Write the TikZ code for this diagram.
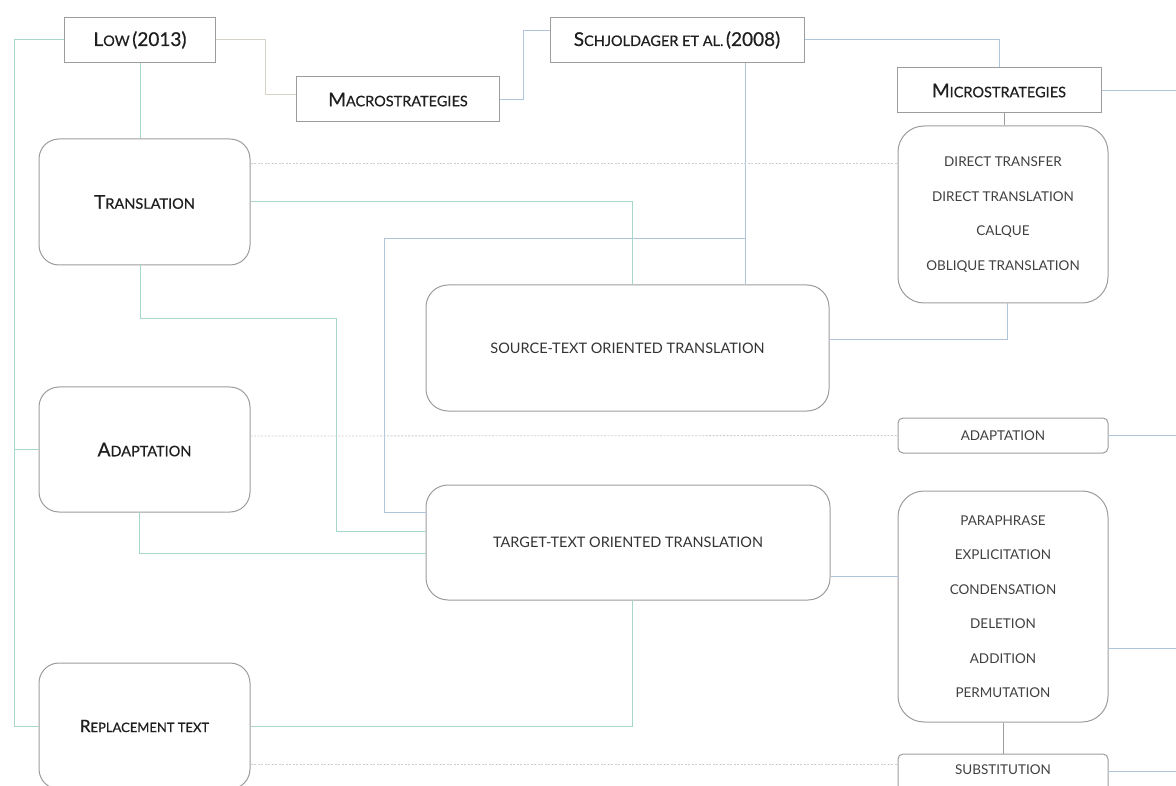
\documentclass[tikz,border=0pt]{standalone}
\usepackage{fontspec}
\setmainfont{Lato}
\newfontfamily\hdfont{Lato}[FakeBold=0.6]
\definecolor{boxgray}{HTML}{9C9C9C}
\definecolor{tealline}{HTML}{A6D6CC}
\definecolor{blueline}{HTML}{B0C4DC}
\definecolor{sandline}{HTML}{D6D3C4}
\definecolor{dotgray}{HTML}{CDCDCD}
\newcommand{\largecap}[1]{{\fontsize{19}{22}\selectfont #1}}
\newcommand{\smallcap}[1]{{\fontsize{14.5}{22}\selectfont #1}}

\begin{document}
\begin{tikzpicture}[x=1pt, y=-1pt,
    hd/.style={draw=boxgray, line width=1pt, inner sep=0pt, text=black!88, font=\hdfont},
    rbox/.style={hd, rounded corners=20pt, minimum width=211pt},
    lbox/.style={hd, rounded corners=26pt, minimum width=210pt, text=black!75,
        align=center, font=\fontsize{13.5}{34.5}\selectfont},
    sbox/.style={hd, rounded corners=5pt, minimum width=210pt, text=black!75,
        font=\fontsize{13.5}{15}\selectfont},
    tl/.style={draw=tealline, line width=1pt},
    bl/.style={draw=blueline, line width=1pt},
    gl/.style={draw=boxgray, line width=0.8pt},
    dl/.style={draw=dotgray, line width=0.8pt, dash pattern=on 2pt off 1.5pt}]
    \clip (0,0) rectangle (1176,786);

    %nodes
    \node[hd, minimum width=151pt, minimum height=45pt] (low) at (140,40) {\largecap{L}\smallcap{OW} \largecap{(2013)}};
    \node[hd, minimum width=203pt, minimum height=45pt] (macro) at (398,99.5) {\largecap{M}\smallcap{ACROSTRATEGIES}};
    \node[hd, minimum width=254pt, minimum height=45pt] (schj) at (677,40) {\largecap{S}\smallcap{CHJOLDAGER ET AL.} \largecap{(2008)}};
    \node[hd, minimum width=204pt, minimum height=45pt] (micro) at (999,90.5) {\largecap{M}\smallcap{ICROSTRATEGIES}};

    \node[rbox, minimum height=126pt] (trans) at (144.5,202) {\largecap{T}\smallcap{RANSLATION}};
    \node[rbox, minimum height=125pt] (adapt) at (144.5,449.5) {\largecap{A}\smallcap{DAPTATION}};
    \node[rbox, minimum height=126pt] (repl) at (144.5,726)
        {{\fontsize{17}{20}\selectfont R}{\fontsize{13}{20}\selectfont EPLACEMENT TEXT}};

    \node[rbox, rounded corners=22pt, minimum width=403pt, minimum height=126pt, text=black!80,
        font=\fontsize{14.5}{17}\selectfont] (source) at (627.5,348) {SOURCE-TEXT ORIENTED TRANSLATION};
    \node[rbox, rounded corners=22pt, minimum width=404pt, minimum height=115pt, text=black!80,
        font=\fontsize{14.5}{17}\selectfont] (target) at (628,542.5) {TARGET-TEXT ORIENTED TRANSLATION};

    \node[lbox, minimum height=177pt] (listone) at (1003,214.5)
        {DIRECT TRANSFER\\DIRECT TRANSLATION\\CALQUE\\OBLIQUE TRANSLATION};
    \node[sbox, minimum height=35pt] (adaptr) at (1003,435.5) {ADAPTATION};
    \node[lbox, minimum height=231pt] (listtwo) at (1003,606.5)
        {PARAPHRASE\\EXPLICITATION\\CONDENSATION\\DELETION\\ADDITION\\PERMUTATION};
    \node[sbox, minimum height=46pt, text depth=0pt] (subst) at (1003,777) {\raisebox{14pt}{SUBSTITUTION}};

    %edges
    \draw[tl] (low.west) -- ++(-50,0) |- (repl.west);
    \draw[tl] (adapt.west) -- ++(-25,0);
    \draw[tl] (low.south) -- (low.south |- trans.north);
    \draw[draw=sandline, line width=1pt] (low.east) -- ++(49,0) |- ([yshift=5pt]macro.west);
    \draw[bl] (macro.east) -- ++(23,0) |- ([yshift=9pt]schj.west);
    \draw[bl] (schj.east) -| (micro.north);
    \draw[bl] (micro.east) -- ++(75,0);
    \draw[gl] ([xshift=5pt]micro.south) -- ([xshift=5pt]micro.south |- listone.north);

    \draw[bl] ([xshift=68pt]schj.south) -- ([xshift=68pt]schj.south |- source.north);
    \draw[bl] ([xshift=68pt, yshift=-175.5pt]schj.south) -- ++(-361,0) |- ([yshift=30.5pt]target.west);
    \draw[tl] (trans.east) -| ([xshift=4.5pt]source.north);
    \draw[tl] ([xshift=-4.5pt]trans.south) -- ++(0,53) -- ++(196,0) |- ([yshift=11.5pt]target.west);
    \draw[tl] ([xshift=-5pt]adapt.south) |- ([yshift=-10.5pt]target.west);
    \draw[tl] ([xshift=4pt]target.south) |- (repl.east);

    \draw[bl] ([yshift=8pt]source.east) -| ([xshift=4pt]listone.south);
    \draw[bl] ([yshift=-33.5pt]target.east) -- ([yshift=-33.5pt]target.east -| listtwo.west);
    \draw[gl] (listtwo.south) -- (subst.north);
    \draw[bl] (adaptr.east) -- ++(68,0);
    \draw[bl] ([yshift=-41.5pt]listtwo.east) -- ++(68,0);
    \draw[bl] ([yshift=6pt]subst.east) -- ++(68,0);

    \draw[dl] ([yshift=39pt]trans.east) -- ([yshift=39pt]trans.east -| listone.west);
    \draw[dl] ([yshift=13.5pt]adapt.east) -- (adaptr.west);
    \draw[dl] ([yshift=-38pt]repl.east) -- ([yshift=-38pt]repl.east -| subst.west);
\end{tikzpicture}
\end{document}
